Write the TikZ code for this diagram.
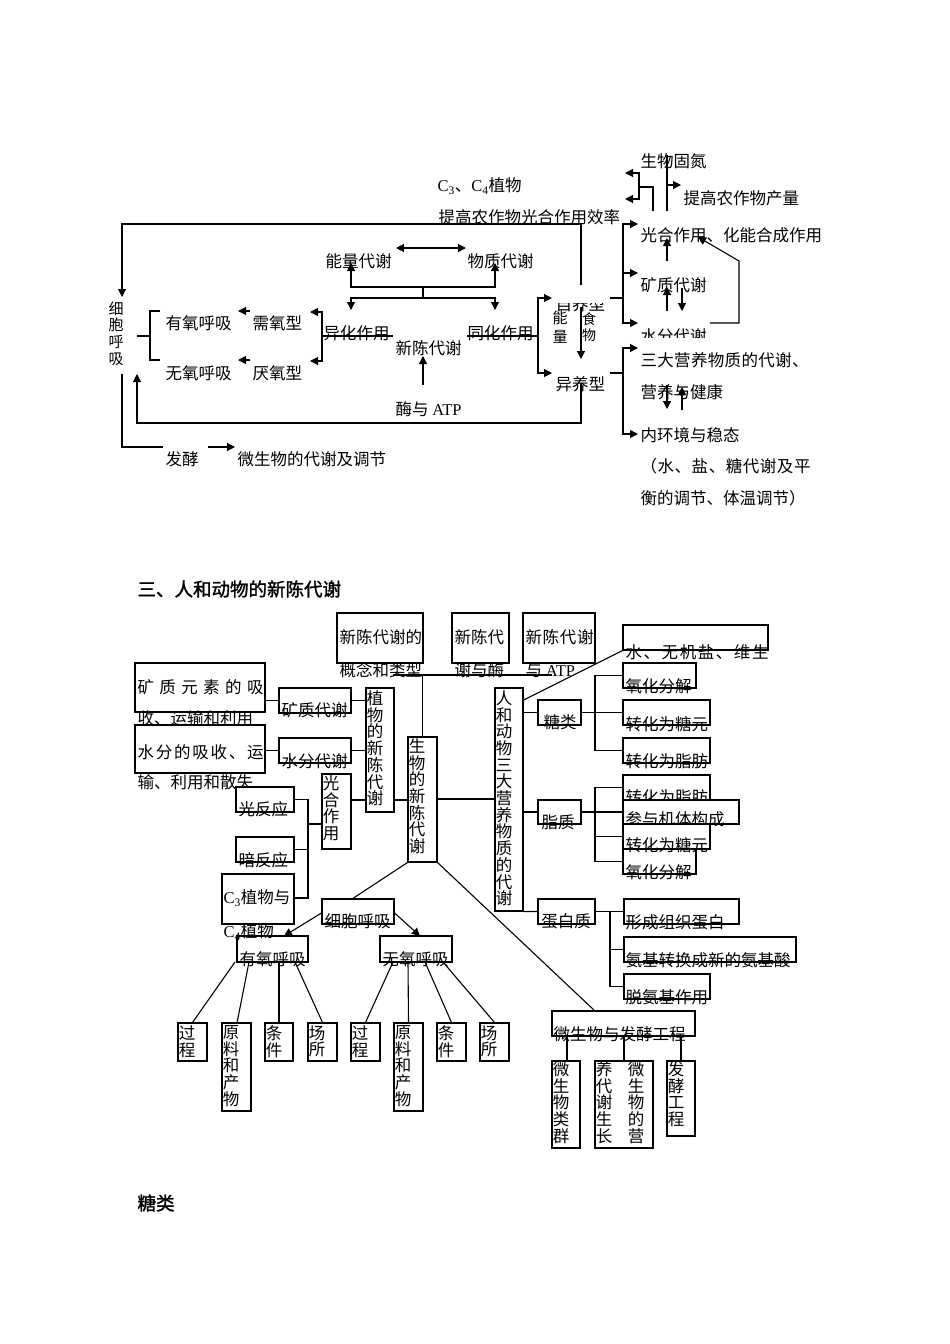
\documentclass[tikz,border=0pt]{standalone}
\usepackage{fontspec}
\setmainfont{Noto Sans CJK SC}
\newfontfamily\latin{Liberation Serif}
\newfontfamily\headfont[FakeBold=1.5]{Noto Sans CJK SC}
\usetikzlibrary{arrows.meta, fit}

\begin{document}
\begin{tikzpicture}[x=1pt, y=-1pt, line width=1.1pt,
    every node/.style={inner sep=0pt, font=\fontsize{16.5}{16.7}\selectfont},
    txt/.style={anchor=west},
    vtxt/.style={anchor=north, align=center},
    bx/.style={draw, fill=white, fit={#1}},
    arr/.style={-{Triangle[length=8pt, width=8pt]}},
    darr/.style={{Triangle[length=8pt, width=8pt]}-{Triangle[length=8pt, width=8pt]}},
    head/.style={anchor=west, font=\headfont\fontsize{18.5}{22}\selectfont}
  ]
  \useasboundingbox (0,0) rectangle (950,1344);

  % upper diagram
  \node[txt] (swgd) at (640,161) {生物固氮};
  \node[txt] (tgcl) at (683,198) {提高农作物产量};
  \node[txt] (c34) at (437,186) {{\latin C\textsubscript{3}}、{\latin C\textsubscript{4}}植物};
  \node[txt] (tgxl) at (438,217) {提高农作物光合作用效率};
  \node[txt] (ghzy) at (640,235) {光合作用、化能合成作用};
  \node[txt] (nldx) at (325,261) {能量代谢};
  \node[txt] (wzdx) at (467,261) {物质代谢};
  \node[txt] (kzdx) at (640,285) {矿质代谢};
  \node[vtxt, font=\fontsize{15}{16.7}\selectfont] (xbhx) at (116,301) {细\\胞\\呼\\吸};
  \begin{scope}
    \clip (545,303) rectangle (615,312);
    \node[txt] (zyx) at (555,304) {自养型};
  \end{scope}
  \node[vtxt, font=\fontsize{15}{19}\selectfont] (nl) at (560,310) {能\\量};
  \node[vtxt, font=\fontsize{14}{16.5}\selectfont] (sw) at (589,312) {食\\物};
  \node[txt] (xyx) at (252,323) {需氧型};
  \node[txt] (yyx) at (252,373) {厌氧型};
  \node[txt] (yyhx) at (165,323) {有氧呼吸};
  \node[txt] (wyhx) at (165,373) {无氧呼吸};
  \node[txt] (yhzy) at (323,333) {异化作用};
  \node[txt] (thzy) at (467,333) {同化作用};
  \node[txt] (xcdx) at (395,348) {新陈代谢};
  \node[txt] (yangx) at (555,384) {异养型};
  \begin{scope}
    \clip (630,320) rectangle (720,337);
    \node[txt] (sfdx) at (640,336) {水分代谢};
  \end{scope}
  \node[txt] (sdyy) at (640,360) {\makebox[168pt][l]{三\hfill 大\hfill 营\hfill 养\hfill 物\hfill 质\hfill 的\hfill 代\hfill 谢\hfill 、}};
  \node[txt] (yyjk) at (640,392) {营养与健康};
  \node[txt] (matp) at (395,409) {酶与 {\latin ATP}};
  \node[txt] (nhj) at (640,435) {内环境与稳态};
  \node[txt] (fj) at (165,459) {发酵};
  \node[txt] (wsw) at (237,459) {微生物的代谢及调节};
  \node[txt] (bz1) at (640,466) {\makebox[170pt][l]{（\hfill 水\hfill 、\hfill 盐\hfill 、\hfill 糖\hfill 代\hfill 谢\hfill 及\hfill 平}};
  \node[txt] (bz2) at (640,498) {衡的调节、体温调节）};

  \draw[arr] (581,285) |- (122,224) -- (122,297);
  \draw[darr] (396,248) -- (466,248);
  \draw[arr] (423,298) -- (423,287) -| (351,263);
  \draw[arr] (423,287) -| (495,263);
  \draw[arr] (423,298) -| (351,310);
  \draw[arr] (423,298) -| (495,310);
  \draw (322,336) -- (393,336);
  \draw[arr] (322,336) |- (310,312);
  \draw[arr] (322,336) |- (310,361);
  \draw[arr] (250,311) -- (238,311);
  \draw[arr] (250,360) -- (238,360);
  \draw (137,336) -- (150,336);
  \draw (160,311) -| (150,360) -- (160,360);
  \draw[arr] (423,385) -- (423,356);
  \draw (467,336) -- (538,336);
  \draw[arr] (538,336) |- (552,298);
  \draw[arr] (538,336) |- (552,373);
  \draw[arr] (581,307) -- (581,359);
  \draw[arr] (581,383) |- (137,423) -- (137,374);
  \draw (122,374) |- (163,447);
  \draw[arr] (208,447) -- (235,447);
  \draw (610,298) -- (623,298);
  \draw[arr] (623,298) |- (638,224);
  \draw[arr] (623,298) |- (638,323);
  \draw[arr] (623,273) -- (638,273);
  \draw (610,373) -- (623,373);
  \draw[arr] (623,373) |- (638,348);
  \draw[arr] (623,373) |- (638,434);
  \draw[arr] (667,261) -- (667,238);
  \draw[arr] (667,311) -- (667,287);
  \draw[arr] (682,288) -- (682,311);
  \draw[arr] (710,323) -| (739,261) -- (698,237);
  \draw[arr] (667,385) -- (667,409);
  \draw[arr] (682,410) -- (682,387);
  \draw (667,155) -- (667,211);
  \draw[arr] (667,185) -- (681,185);
  \draw (653,211) |- (639,187);
  \draw[arr] (639,187) |- (625,173);
  \draw[arr] (639,187) |- (625,199);

  % lower diagram
  \node[head] (title) at (137,589) {三、人和动物的新陈代谢};
  \node[head] (tl-head) at (137,1203) {糖类};

  \node[bx={(337,613) (423,663)}] (gn) {};
  \node[txt] (gn-t) at (339,637) {新陈代谢的};
  \node[txt] (gn-u) at (339,670) {概念和类型};
  \node[bx={(452,613) (509,663)}] (my) {};
  \node[txt] (my-t) at (454,637) {新陈代};
  \node[txt] (my-u) at (454,670) {谢与酶};
  \node[bx={(523,613) (595,663)}] (atp) {};
  \node[txt] (atp-t) at (525,637) {\makebox[68pt][l]{新\hfill 陈\hfill 代\hfill 谢}};
  \node[txt] (atp-u) at (525,670) {与 {\latin ATP}};
  \node[bx={(623,625) (768,650)}] (wj) {};
  \node[txt] (wj-t) at (625,652) {\makebox[143pt][l]{水\hfill 、\hfill 无\hfill 机\hfill 盐\hfill 、\hfill 维\hfill 生}};

  \node[bx={(135,663) (265,712)}] (kzys) {};
  \node[txt] (kzys-t) at (137,687) {\makebox[126pt][l]{矿\hfill 质\hfill 元\hfill 素\hfill 的\hfill 吸}};
  \node[txt] (kzys-u) at (137,718) {收、运输和利用};
  \node[bx={(135,725) (265,773)}] (sfxs) {};
  \node[txt] (sfxs-t) at (137,752) {\makebox[126pt][l]{水\hfill 分\hfill 的\hfill 吸\hfill 收\hfill 、\hfill 运}};
  \node[txt] (sfxs-u) at (137,782) {输、利用和散失};
  \node[bx={(279,688) (351,713)}] (kz) {};
  \node[txt] (kz-t) at (281,710) {矿质代谢};
  \node[bx={(279,738) (351,763)}] (sf) {};
  \node[txt] (sf-t) at (281,761) {水分代谢};
  \node[bx={(366,688) (394,812)}] (zw) {};
  \node[vtxt] (zw-t) at (375,690) {植\\物\\的\\新\\陈\\代\\谢};
  \node[bx={(408,737) (437,862)}] (sws) {};
  \node[vtxt] (sws-t) at (417,738) {生\\物\\的\\新\\陈\\代\\谢};
  \node[bx={(495,688) (523,911)}] (rd) {};
  \node[vtxt] (rd-t) at (504,690) {人\\和\\动\\物\\三\\大\\营\\养\\物\\质\\的\\代\\谢};
  \node[bx={(322,774) (351,849)}] (gh) {};
  \node[vtxt] (gh-t) at (331,775) {光\\合\\作\\用};
  \node[bx={(236,787) (294,812)}] (gfy) {};
  \node[txt] (gfy-t) at (238,809) {光反应};
  \node[bx={(236,837) (294,862)}] (afy) {};
  \node[txt] (afy-t) at (238,860) {暗反应};
  \node[bx={(222,874) (294,924)}] (c34b) {};
  \node[txt] (c34b-t) at (223,898) {{\latin C\textsubscript{3}}植物与};
  \node[bx={(322,899) (394,924)}] (hx) {};
  \node[txt] (hx-t) at (324,921) {细胞呼吸};
  \node[bx={(237,936) (308,962)}] (yy) {};
  \node[txt] (c34b-u) at (223,932) {{\latin C\textsubscript{4}}植物};
  \node[txt] (yy-t) at (239,959) {有氧呼吸};
  \node[bx={(380,936) (452,962)}] (wy) {};
  \node[txt] (wy-t) at (382,959) {无氧呼吸};

  \node[bx={(178,1023) (207,1061)}] (gc1) {};
  \node[vtxt] (gc1-t) at (187,1025) {过\\程};
  \node[bx={(222,1023) (251,1111)}] (yl1) {};
  \node[vtxt] (yl1-t) at (231,1025) {原\\料\\和\\产\\物};
  \node[bx={(265,1023) (293,1061)}] (tj1) {};
  \node[vtxt] (tj1-t) at (274,1025) {条\\件};
  \node[bx={(308,1023) (337,1061)}] (cs1) {};
  \node[vtxt] (cs1-t) at (317,1025) {场\\所};
  \node[bx={(351,1023) (380,1061)}] (gc2) {};
  \node[vtxt] (gc2-t) at (360,1025) {过\\程};
  \node[bx={(394,1023) (423,1111)}] (yl2) {};
  \node[vtxt] (yl2-t) at (403,1025) {原\\料\\和\\产\\物};
  \node[bx={(437,1023) (466,1061)}] (tj2) {};
  \node[vtxt] (tj2-t) at (446,1025) {条\\件};
  \node[bx={(480,1023) (509,1061)}] (cs2) {};
  \node[vtxt] (cs2-t) at (489,1025) {场\\所};

  \node[bx={(538,700) (581,725)}] (tl) {};
  \node (tl-t) at (560,722) {糖类};
  \node[bx={(538,800) (581,824)}] (zz) {};
  \node (zz-t) at (558,822) {脂质};
  \node[bx={(538,899) (595,924)}] (dbz) {};
  \node (dbz-t) at (566,921) {蛋白质};

  \node[bx={(623,663) (696,688)}] (yh1) {};
  \node[txt] (yh1-t) at (625,686) {氧化分解};
  \node[bx={(623,700) (710,725)}] (th1) {};
  \node[txt] (th1-t) at (625,724) {转化为糖元};
  \node[bx={(623,738) (710,763)}] (zf1) {};
  \node[txt] (zf1-t) at (625,761) {转化为脂肪};
  \node[bx={(623,775) (710,800)}] (zf2) {};
  \node[txt] (zf2-t) at (625,797) {转化为脂肪};
  \node[bx={(623,800) (739,824)}] (cy) {};
  \node[txt] (cy-t) at (625,819) {参与机体构成};
  \node[bx={(623,849) (696,874)}] (yh2) {};
  \node[txt] (yh2-t) at (625,872) {氧化分解};
  \node[bx={(623,824) (710,849)}] (th2) {};
  \node[txt] (th2-t) at (625,845) {转化为糖元};
  \node[bx={(624,899) (739,924)}] (xc) {};
  \node[txt] (xc-t) at (625,922) {形成组织蛋白};
  \node[bx={(624,937) (796,962)}] (aj) {};
  \node[txt] (aj-t) at (625,960) {氨基转换成新的氨基酸};
  \node[bx={(624,974) (710,999)}] (ta) {};
  \node[txt] (ta-t) at (625,997) {脱氨基作用};

  \node[bx={(552,1011) (695,1036)}] (wsf) {};
  \node[txt] (wsf-t) at (553,1034) {微生物与发酵工程};
  \node[bx={(552,1061) (580,1148)}] (lq) {};
  \node[vtxt] (lq-t) at (561,1061) {微\\生\\物\\类\\群};
  \node[bx={(595,1061) (653,1148)}] (yd) {};
  \node[vtxt] (yd-t) at (604,1061) {养\\代\\谢\\生\\长};
  \node[vtxt] (yd-u) at (636,1061) {微\\生\\物\\的\\营};
  \node[bx={(667,1061) (695,1136)}] (fg) {};
  \node[vtxt] (fg-t) at (676,1061) {发\\酵\\工\\程};

  \draw (393,675) -- (552,675);
  \draw (sws.north) -- (sws.north |- 0,675);
  \draw (kzys.east |- kz) -- (kz.west);
  \draw (sfxs.east |- sf) -- (sf.west);
  \draw (kz.east) -- (kz.east -| zw.west);
  \draw (sf.east) -- (sf.east -| zw.west);
  \draw (gh.east |- 0,800) -- (zw.west |- 0,800);
  \draw (zw.east |- 0,800) -- (sws.west |- 0,800);
  \draw (sws.east |- 0,799) -- (rd.west |- 0,799);
  \draw (gfy.east) -| (308,898) -- (c34b.east |- 0,898);
  \draw (afy.east) -- (afy.east -| 308,0);
  \draw (308,824) -- (gh.west |- 0,824);
  \draw (rd.north east |- 0,700) -- (wj.south west);
  \draw (rd.east |- tl) -- (tl.west);
  \draw (tl.east) -- (th1.west);
  \draw (yh1.west) -| (595,750.5) -- (zf1.west);
  \draw (rd.east |- zz) -- (zz.west);
  \draw (zz.east) -- (cy.west);
  \draw (zf2.west) -| (595,861.5) -- (yh2.west);
  \draw (595,836.5) -- (th2.west);
  \draw (rd.south east) -- (dbz.west);
  \draw (dbz.east) -- (xc.west);
  \draw (610,911.5) |- (ta.west);
  \draw (610,949.5) -- (aj.west);
  \draw (sws.south west) -- (352,899);
  \draw (sws.south east) -- (595,1011);
  \draw[arr] (hx.west |- 0,913) -- (284,936);
  \draw[arr] (hx.east |- 0,913) -- (420,936);
  \draw (235,962) -- (gc1.north);
  \draw (249,962) -- (237,1023);
  \draw (279,962) -- (tj1.north -| 279,0);
  \draw (295,962) -- (cs1.north);
  \draw (393,962) -- (gc2.north);
  \draw (408,962) -- (yl2.north);
  \draw (425,962) -- (tj2.north);
  \draw (443,962) -- (cs2.north);
  \draw (567,1036) -- (lq.north -| 567,0);
  \draw (624,1036) -- (yd.north -| 624,0);
  \draw (681,1036) -- (fg.north -| 681,0);
\end{tikzpicture}
\end{document}
